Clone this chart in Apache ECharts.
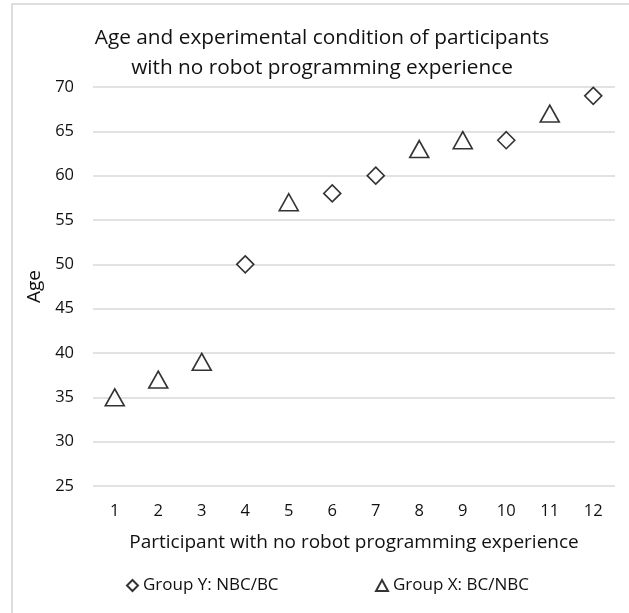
<!DOCTYPE html>
<html>
<head>
<meta charset="utf-8">
<script src="https://cdn.jsdelivr.net/npm/echarts@6/dist/echarts.min.js"></script>
<style>html,body{margin:0;padding:0;background:#fff;}#c{width:629px;height:613px;}</style>
</head>
<body>
<div id="c"></div>
<script>
var categories = ['1','2','3','4','5','6','7','8','9','10','11','12'];
var groupYParticipants = ['4','6','7','10','12'];
var groupYAges = [50, 58, 60, 64, 69];
var groupXParticipants = ['1','2','3','5','8','9','11'];
var groupXAges = [35, 37, 39, 57, 63, 64, 67];
var titleLines = ['Age and experimental condition of participants', 'with no robot programming experience'];
var FONT = 'Open Sans';
var INK = '#111';

function pairs(cats, vals) { return cats.map(function (c, i) { return [c, vals[i]]; }); }

var chart = echarts.init(document.getElementById('c'), null, {renderer: 'canvas'});
chart.setOption({
  backgroundColor: '#fff',
  animation: false,
  textStyle: {fontFamily: FONT},
  graphic: [{
    type: 'rect', silent: true, z: -1,
    shape: {x: 12, y: 4, width: 700, height: 700},
    style: {fill: 'none', stroke: '#d4d4d4', lineWidth: 1.5}
  }],
  title: {
    text: titleLines.join('\n'),
    left: 317, top: 18, textAlign: 'center',
    textStyle: {fontFamily: FONT, fontSize: 20.8, fontWeight: 'normal', color: INK, lineHeight: 30}
  },
  legend: [{
    data: ['Group Y: NBC/BC'], left: 121, top: 572, itemWidth: 11, itemHeight: 11, itemGap: 5,
    textStyle: {fontFamily: FONT, fontSize: 17, color: INK}
  }, {
    data: ['Group X: BC/NBC'], left: 370, top: 572, itemWidth: 12, itemHeight: 11, itemGap: 5,
    textStyle: {fontFamily: FONT, fontSize: 17, color: INK}
  }],
  grid: {left: 93, right: 14, top: 87, bottom: 127, containLabel: false},
  xAxis: {
    type: 'category', data: categories, boundaryGap: true,
    name: 'Participant with no robot programming experience', nameLocation: 'middle', nameGap: 47,
    nameTextStyle: {fontFamily: FONT, fontSize: 19, color: INK},
    axisLine: {show: false}, axisTick: {show: false},
    axisLabel: {fontFamily: FONT, fontSize: 16.5, color: INK, margin: 17},
    splitLine: {show: false}
  },
  yAxis: {
    type: 'value', min: 25, max: 70, interval: 5,
    name: 'Age', nameLocation: 'middle', nameGap: 44,
    nameTextStyle: {fontFamily: FONT, fontSize: 19, color: INK},
    axisLine: {show: false}, axisTick: {show: false},
    axisLabel: {fontFamily: FONT, fontSize: 16.5, color: INK, margin: 19},
    splitLine: {show: true, lineStyle: {color: '#d9d9d9', width: 1.5}}
  },
  series: [{
    name: 'Group Y: NBC/BC', type: 'scatter', symbol: 'diamond', symbolSize: [17, 17],
    itemStyle: {color: '#fff', borderColor: '#000', borderWidth: 1.6},
    data: pairs(groupYParticipants, groupYAges)
  }, {
    name: 'Group X: BC/NBC', type: 'scatter', symbol: 'triangle', symbolSize: [19, 17],
    itemStyle: {color: '#fff', borderColor: '#000', borderWidth: 1.6},
    data: pairs(groupXParticipants, groupXAges)
  }]
});
</script>
</body>
</html>
